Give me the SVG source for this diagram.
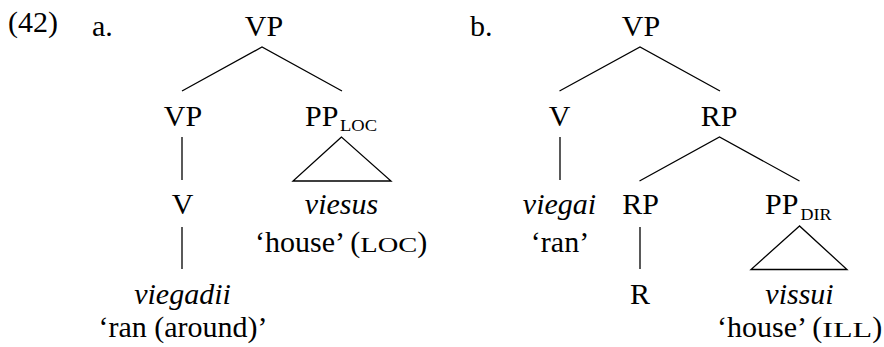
<svg xmlns="http://www.w3.org/2000/svg" width="884" height="347" viewBox="0 0 884 347">
<style>
text{font-family:"Liberation Serif","Times New Roman",serif;font-size:30px;fill:#000}
.m{text-anchor:middle}
.i{font-style:italic}
.sc{font-size:22px}
.sub{font-size:16.5px}
.ln{stroke:#000;stroke-width:1.3;fill:none;stroke-linecap:butt}
</style>
<rect width="884" height="347" fill="#fff"/>
<g id="labels">
<text x="8" y="32">(42)</text>
<text x="92" y="36">a.</text>
<text x="470" y="36">b.</text>
</g>
<g id="connectors" class="ln">
<polyline points="182,91 262,47 342,91"/>
<line x1="182" y1="137" x2="182" y2="180"/>
<polygon points="341.5,137 293,181 391,181"/>
<line x1="182" y1="227" x2="182" y2="269"/>
<polyline points="559.5,91 640,47 720,91"/>
<line x1="560" y1="137" x2="560" y2="180"/>
<polyline points="639.5,181 719.5,137 799.5,181"/>
<line x1="640" y1="227" x2="640" y2="269"/>
<polygon points="799.5,226 751,269.5 847,269.5"/>
</g>
<g id="a-VP"><text class="m" x="264" y="36">VP</text></g>
<g id="a-VP2"><text class="m" x="183" y="126">VP</text></g>
<g id="a-PPLOC"><text x="305" y="126">PP<tspan class="sub" x="340" y="130.5" textLength="37" lengthAdjust="spacingAndGlyphs">LOC</tspan></text></g>
<g id="a-V"><text class="m" x="182.5" y="213.5">V</text></g>
<g id="a-viesus"><text class="m i" x="341.5" y="214">viesus</text><text x="255" y="251.5">‘house’ (<tspan class="sc" textLength="57" lengthAdjust="spacingAndGlyphs">LOC</tspan>)</text></g>
<g id="a-viegadii"><text class="m i" x="182.5" y="303.5">viegadii</text><text class="m" x="183" y="336.5">‘ran (around)’</text></g>
<g id="b-VP"><text class="m" x="641" y="36">VP</text></g>
<g id="b-V"><text class="m" x="559.5" y="126">V</text></g>
<g id="b-RP"><text class="m" x="719" y="126">RP</text></g>
<g id="b-viegai"><text class="m i" x="559.5" y="214">viegai</text><text class="m" x="560" y="251.5">‘ran’</text></g>
<g id="b-RP2"><text class="m" x="640.5" y="214">RP</text></g>
<g id="b-R"><text class="m" x="640" y="303.5">R</text></g>
<g id="b-PPDIR"><text x="765" y="214">PP<tspan class="sub" x="800.5" y="219.5" textLength="31" lengthAdjust="spacingAndGlyphs">DIR</tspan></text></g>
<g id="b-vissui"><text class="m i" x="799.5" y="303.5">vissui</text><text x="717" y="336.5">‘house’ (<tspan class="sc" textLength="50" lengthAdjust="spacingAndGlyphs">ILL</tspan>)</text></g>
</svg>
